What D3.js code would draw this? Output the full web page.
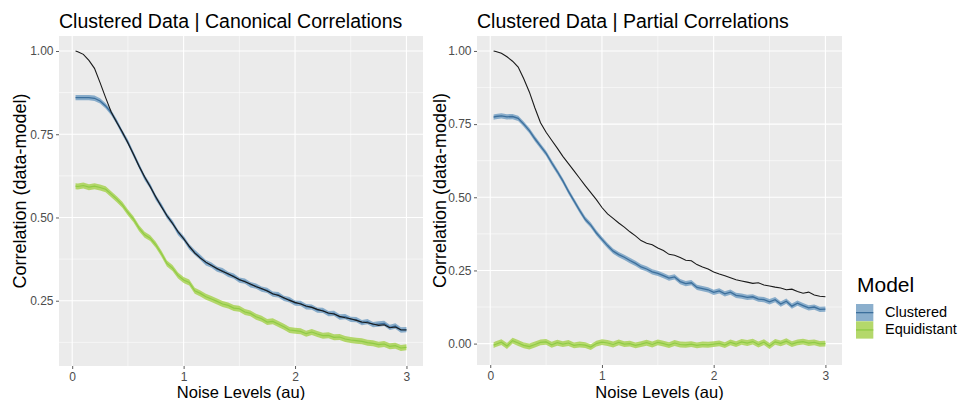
<!DOCTYPE html>
<html>
<head>
<meta charset="utf-8">
<script src="https://cdn.jsdelivr.net/npm/d3@7"></script>
<style>
  body { margin: 0; background: #ffffff; }
  svg { display: block; }
  text { font-family: "Liberation Sans", Arial, sans-serif; }
</style>
</head>
<body>
<svg id="chart" width="968" height="400"></svg>
<script>
// Noise levels (au) at which the correlations were evaluated
const noise = [0.03, 0.05, 0.10, 0.15, 0.20, 0.25, 0.30, 0.35, 0.40, 0.45,
  0.50, 0.55, 0.60, 0.65, 0.70, 0.75, 0.80, 0.85, 0.90, 0.95,
  1.00, 1.05, 1.10, 1.15, 1.20, 1.25, 1.30, 1.35, 1.40, 1.45,
  1.50, 1.55, 1.60, 1.65, 1.70, 1.75, 1.80, 1.85, 1.90, 1.95,
  2.00, 2.05, 2.10, 2.15, 2.20, 2.25, 2.30, 2.35, 2.40, 2.45,
  2.50, 2.55, 2.60, 2.65, 2.70, 2.75, 2.80, 2.85, 2.90, 2.95, 3.00];

// Canonical correlations
const canonReference = [1.000, 0.998, 0.990, 0.972, 0.948, 0.905, 0.860, 0.817, 0.785, 0.757,
  0.724, 0.690, 0.654, 0.622, 0.592, 0.562, 0.532, 0.506, 0.482, 0.458,
  0.436, 0.414, 0.393, 0.378, 0.366, 0.356, 0.347, 0.338, 0.331, 0.322,
  0.314, 0.307, 0.300, 0.292, 0.287, 0.279, 0.271, 0.266, 0.259, 0.251,
  0.245, 0.240, 0.234, 0.230, 0.224, 0.219, 0.213, 0.210, 0.203, 0.199,
  0.196, 0.191, 0.186, 0.184, 0.180, 0.176, 0.178, 0.169, 0.171, 0.163, 0.162];
const canonClustered = [0.860, 0.860, 0.860, 0.860, 0.858, 0.850, 0.835, 0.815, 0.787, 0.755,
  0.726, 0.690, 0.655, 0.620, 0.594, 0.560, 0.535, 0.505, 0.484, 0.455,
  0.437, 0.412, 0.395, 0.380, 0.364, 0.357, 0.345, 0.340, 0.329, 0.324,
  0.312, 0.309, 0.298, 0.294, 0.285, 0.281, 0.270, 0.268, 0.257, 0.253,
  0.243, 0.242, 0.232, 0.231, 0.222, 0.221, 0.211, 0.212, 0.201, 0.202,
  0.194, 0.193, 0.184, 0.187, 0.178, 0.180, 0.182, 0.170, 0.174, 0.162, 0.163];
const canonEquidistant = [0.594, 0.593, 0.596, 0.591, 0.594, 0.590, 0.585, 0.570, 0.555, 0.538,
  0.515, 0.495, 0.468, 0.448, 0.438, 0.418, 0.392, 0.362, 0.348, 0.326,
  0.312, 0.305, 0.280, 0.272, 0.262, 0.255, 0.248, 0.240, 0.236, 0.228,
  0.226, 0.216, 0.212, 0.202, 0.196, 0.186, 0.188, 0.180, 0.172, 0.162,
  0.160, 0.158, 0.151, 0.156, 0.150, 0.145, 0.146, 0.140, 0.141, 0.135,
  0.132, 0.130, 0.128, 0.124, 0.122, 0.118, 0.120, 0.113, 0.115, 0.108, 0.110];

// Partial correlations
const partialReference = [1.000, 0.998, 0.992, 0.980, 0.965, 0.945, 0.905, 0.860, 0.805, 0.755,
  0.722, 0.695, 0.668, 0.640, 0.615, 0.590, 0.565, 0.540, 0.516, 0.492,
  0.465, 0.443, 0.428, 0.412, 0.398, 0.382, 0.368, 0.352, 0.343, 0.338,
  0.327, 0.318, 0.305, 0.302, 0.294, 0.285, 0.283, 0.270, 0.262, 0.255,
  0.245, 0.238, 0.232, 0.225, 0.218, 0.214, 0.210, 0.206, 0.208, 0.200,
  0.197, 0.193, 0.190, 0.184, 0.186, 0.178, 0.172, 0.176, 0.166, 0.162, 0.160];
const partialClustered = [0.774, 0.776, 0.778, 0.775, 0.776, 0.770, 0.750, 0.728, 0.700, 0.675,
  0.650, 0.618, 0.588, 0.556, 0.520, 0.488, 0.455, 0.425, 0.405, 0.378,
  0.356, 0.335, 0.316, 0.304, 0.295, 0.284, 0.274, 0.262, 0.255, 0.245,
  0.240, 0.232, 0.224, 0.228, 0.212, 0.205, 0.208, 0.192, 0.188, 0.184,
  0.175, 0.180, 0.170, 0.176, 0.165, 0.162, 0.158, 0.160, 0.152, 0.150,
  0.143, 0.150, 0.135, 0.145, 0.128, 0.138, 0.130, 0.122, 0.125, 0.117, 0.118];
const partialEquidistant = [-0.005, -0.002, 0.005, -0.008, 0.010, 0.002, -0.006, -0.010, -0.003, 0.004,
  0.006, -0.004, 0.003, -0.002, 0.002, -0.006, -0.003, -0.005, -0.012, 0.000,
  0.005, 0.002, -0.003, 0.004, -0.002, 0.000, -0.006, -0.002, 0.003, -0.003,
  0.004, 0.000, -0.005, 0.002, -0.003, -0.004, -0.002, -0.006, -0.003, -0.004,
  -0.002, 0.001, -0.005, 0.004, -0.002, 0.006, 0.002, 0.007, -0.003, 0.005,
  -0.008, 0.006, 0.001, 0.008, -0.002, 0.004, 0.007, 0.002, 0.004, -0.001, 0.000];

// Half-width of the confidence band for each model: [canonical, partial]
const bandClustered = [0.008, 0.009];
const bandEquidistant = [0.009, 0.010];

const panelTitles = ["Clustered Data | Canonical Correlations", "Clustered Data | Partial Correlations"];
const modelNames = ["Clustered", "Equidistant"];
const xTicks = [0, 1, 2, 3];
const yTicks = [0, 0.25, 0.5, 0.75, 1];

const colors = {
  panel: "#ebebeb",
  clusteredFill: "#4682b4",
  clusteredLine: "#3c6f9c",
  equidistantFill: "#9acd32",
  equidistantLine: "#8fcb45",
  reference: "#1a1a1a",
  tickText: "#4d4d4d",
  tick: "#333333"
};

const svg = d3.select("#chart");

const panels = [
  { title: panelTitles[0], box: { left: 59, right: 423, top: 36, bottom: 366 },
    ref: canonReference, clu: canonClustered, equ: canonEquidistant,
    bandC: bandClustered[0], bandE: bandEquidistant[0], yTitleX: 26 },
  { title: panelTitles[1], box: { left: 477, right: 842, top: 36, bottom: 365 },
    ref: partialReference, clu: partialClustered, equ: partialEquidistant,
    bandC: bandClustered[1], bandE: bandEquidistant[1], yTitleX: 446 }
];

// ggplot-style 5% expansion of the data range
function expanded(lo, hi) {
  const pad = (hi - lo) * 0.05;
  return [lo - pad, hi + pad];
}

panels.forEach(p => {
  const b = p.box;
  const g = svg.append("g");

  const x = d3.scaleLinear()
    .domain(expanded(d3.min(noise), d3.max(noise)))
    .range([b.left, b.right]);

  const lows = [].concat(p.ref, p.clu.map(v => v - p.bandC), p.equ.map(v => v - p.bandE));
  const highs = [].concat(p.ref, p.clu.map(v => v + p.bandC), p.equ.map(v => v + p.bandE));
  const y = d3.scaleLinear()
    .domain(expanded(d3.min(lows), d3.max(highs)))
    .range([b.bottom, b.top]);

  // panel background
  g.append("rect")
    .attr("x", b.left).attr("y", b.top)
    .attr("width", b.right - b.left).attr("height", b.bottom - b.top)
    .attr("fill", colors.panel);

  // minor grid lines halfway between major breaks
  const [yLo, yHi] = y.domain();
  const [xLo, xHi] = x.domain();
  const yMinor = [];
  for (let i = 0; i < yTicks.length - 1; i++) yMinor.push((yTicks[i] + yTicks[i + 1]) / 2);
  yMinor.unshift(yTicks[0] - 0.125);
  const xMinor = [];
  for (let i = 0; i < xTicks.length - 1; i++) xMinor.push((xTicks[i] + xTicks[i + 1]) / 2);

  g.selectAll(".ymin").data(yMinor.filter(v => v > yLo && v < yHi)).enter().append("line")
    .attr("x1", b.left).attr("x2", b.right)
    .attr("y1", d => y(d)).attr("y2", d => y(d))
    .attr("stroke", "#ffffff").attr("stroke-width", 0.55);
  g.selectAll(".xmin").data(xMinor.filter(v => v > xLo && v < xHi)).enter().append("line")
    .attr("y1", b.top).attr("y2", b.bottom)
    .attr("x1", d => x(d)).attr("x2", d => x(d))
    .attr("stroke", "#ffffff").attr("stroke-width", 0.55);

  const yMajor = yTicks.filter(v => v > yLo && v < yHi);
  g.selectAll(".ymaj").data(yMajor).enter().append("line")
    .attr("x1", b.left).attr("x2", b.right)
    .attr("y1", d => y(d)).attr("y2", d => y(d))
    .attr("stroke", "#ffffff").attr("stroke-width", 1.1);
  g.selectAll(".xmaj").data(xTicks).enter().append("line")
    .attr("y1", b.top).attr("y2", b.bottom)
    .attr("x1", d => x(d)).attr("x2", d => x(d))
    .attr("stroke", "#ffffff").attr("stroke-width", 1.1);

  // confidence bands
  const band = (vals, hw) => d3.area()
    .x((d, i) => x(noise[i]))
    .y0(d => y(d - hw))
    .y1(d => y(d + hw))(vals);
  const line = vals => d3.line()
    .x((d, i) => x(noise[i]))
    .y(d => y(d))(vals);

  g.append("path").attr("d", band(p.clu, p.bandC))
    .attr("fill", colors.clusteredFill).attr("fill-opacity", 0.6);
  g.append("path").attr("d", band(p.equ, p.bandE))
    .attr("fill", colors.equidistantFill).attr("fill-opacity", 0.7);

  g.append("path").attr("d", line(p.clu))
    .attr("fill", "none").attr("stroke", colors.clusteredLine).attr("stroke-width", 1.3);
  g.append("path").attr("d", line(p.equ))
    .attr("fill", "none").attr("stroke", colors.equidistantLine).attr("stroke-width", 1.2);
  g.append("path").attr("d", line(p.ref))
    .attr("fill", "none").attr("stroke", colors.reference).attr("stroke-width", 1.1);

  // axes
  const yAxis = g.append("g")
    .attr("transform", `translate(${b.left},0)`)
    .call(d3.axisLeft(y).tickValues(yMajor).tickFormat(d3.format(".2f")).tickSize(3).tickPadding(2.5));
  const xAxis = g.append("g")
    .attr("transform", `translate(0,${b.bottom})`)
    .call(d3.axisBottom(x).tickValues(xTicks).tickFormat(d3.format("d")).tickSize(3).tickPadding(3));
  [yAxis, xAxis].forEach(ax => {
    ax.select(".domain").remove();
    ax.selectAll(".tick line").attr("stroke", colors.tick).attr("stroke-width", 0.8);
    ax.selectAll(".tick text")
      .attr("fill", colors.tickText)
      .style("font-size", "12px")
      .style("font-family", "'Liberation Sans', Arial, sans-serif");
  });

  // titles
  g.append("text")
    .attr("x", b.left).attr("y", 28)
    .style("font-size", "19.5px")
    .attr("fill", "#000")
    .text(p.title);

  g.append("text")
    .attr("x", (b.left + b.right) / 2).attr("y", 398)
    .attr("text-anchor", "middle")
    .style("font-size", "16.5px")
    .attr("fill", "#000")
    .text("Noise Levels (au)");

  g.append("text")
    .attr("transform", `translate(${p.yTitleX},${(b.top + b.bottom) / 2 - 10}) rotate(-90)`)
    .attr("text-anchor", "middle")
    .style("font-size", "18px")
    .attr("fill", "#000")
    .text("Correlation (data-model)");
});

// legend
const legend = svg.append("g");
legend.append("text")
  .attr("x", 857).attr("y", 292)
  .style("font-size", "21px")
  .attr("fill", "#000")
  .text("Model");

const keySize = 17.3;
const keyFills = [colors.clusteredFill, colors.equidistantFill];
const keyOpac = [0.6, 0.7];
const keyLines = [colors.clusteredLine, colors.equidistantLine];
modelNames.forEach((name, i) => {
  const ky = 304 + i * keySize;
  legend.append("rect")
    .attr("x", 856).attr("y", ky).attr("width", keySize).attr("height", keySize)
    .attr("fill", "#f2f2f2");
  legend.append("rect")
    .attr("x", 856).attr("y", ky).attr("width", keySize).attr("height", keySize)
    .attr("fill", keyFills[i]).attr("fill-opacity", keyOpac[i]);
  legend.append("line")
    .attr("x1", 856).attr("x2", 856 + keySize)
    .attr("y1", ky + keySize / 2).attr("y2", ky + keySize / 2)
    .attr("stroke", keyLines[i]).attr("stroke-width", 1.3);
  legend.append("text")
    .attr("x", 885).attr("y", ky + 13)
    .style("font-size", "14.5px")
    .attr("fill", "#000")
    .text(name);
});
</script>
</body>
</html>
